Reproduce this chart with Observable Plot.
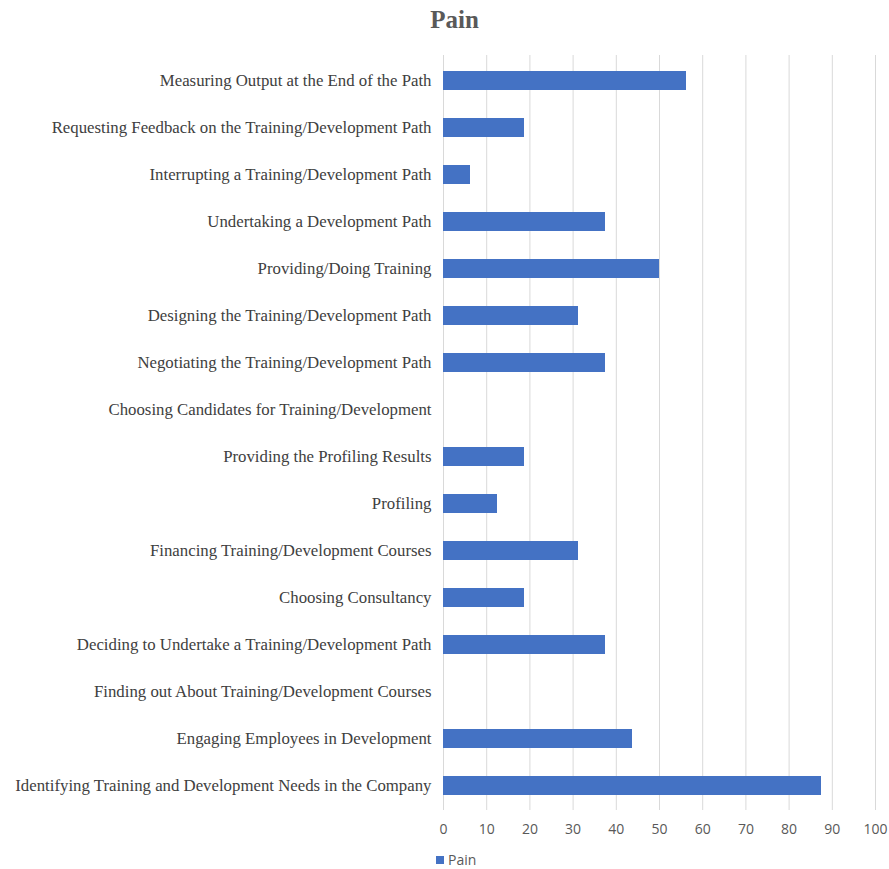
<!DOCTYPE html>
<html>
<head>
<meta charset="utf-8">
<script src="https://cdn.jsdelivr.net/npm/d3@7"></script>
<script src="https://cdn.jsdelivr.net/npm/@observablehq/plot@0.6"></script>
<style>
  body { margin: 0; background: #fff; }
  #wrap { position: relative; width: 889px; height: 869px; }
  #title { position: absolute; top: 6px; left: 10px; width: 889px; text-align: center;
    font-family: "Liberation Serif", serif; font-weight: bold; font-size: 25px; color: #595959; }
  #legend { position: absolute; top: 850px; left: 436px; font-family: "Open Sans", sans-serif;
    font-size: 14px; color: #595959; display: flex; align-items: center; gap: 4px; }
  #legend span.sw { display: inline-block; width: 8px; height: 8px; background: #4472C4; }
  #chart { position: absolute; top: 0; left: 0; }
</style>
</head>
<body>
<div id="wrap">
  <div id="chart"></div>
  <div id="title">Pain</div>
  <div id="legend"><span class="sw"></span><span>Pain</span></div>
</div>
<script>
const categories = [
  "Measuring Output at the End of the Path",
  "Requesting Feedback on the Training/Development Path",
  "Interrupting a Training/Development Path",
  "Undertaking a Development Path",
  "Providing/Doing Training",
  "Designing the Training/Development Path",
  "Negotiating the Training/Development Path",
  "Choosing Candidates for Training/Development",
  "Providing the Profiling Results",
  "Profiling",
  "Financing Training/Development Courses",
  "Choosing Consultancy",
  "Deciding to Undertake a Training/Development Path",
  "Finding out About Training/Development Courses",
  "Engaging Employees in Development",
  "Identifying Training and Development Needs in the Company"
];
const painValues = [56.25, 18.75, 6.25, 37.5, 50, 31.25, 37.5, 0, 18.75, 12.5, 31.25, 18.75, 37.5, 0, 43.75, 87.5];
const xTicks = [0, 10, 20, 30, 40, 50, 60, 70, 80, 90, 100];

const data = categories.map((c, i) => ({category: c, value: painValues[i]}));

const chart = Plot.plot({
  width: 889,
  height: 845,
  marginLeft: 443,
  marginRight: 14,
  marginTop: 55,
  marginBottom: 35,
  style: {fontFamily: "'Open Sans', sans-serif", background: "transparent"},
  x: {domain: [0, 100], ticks: xTicks, label: null},
  y: {domain: categories, label: null, paddingInner: 0.6, paddingOuter: 0.3},
  marks: [
    Plot.gridX(xTicks, {stroke: "#d9d9d9", strokeOpacity: 1, strokeWidth: 1}),
    Plot.barX(data, {y: "category", x: "value", fill: "#4472C4"}),
    Plot.axisX({ticks: xTicks, tickSize: 0, tickPadding: 14, fontSize: 14, fill: "#595959", label: null}),
    Plot.axisY({tickSize: 0, tickPadding: 12, fontSize: 16.8, fill: "#404040",
      fontFamily: "'Liberation Serif', serif", label: null})
  ]
});
document.getElementById("chart").appendChild(chart);
</script>
</body>
</html>
